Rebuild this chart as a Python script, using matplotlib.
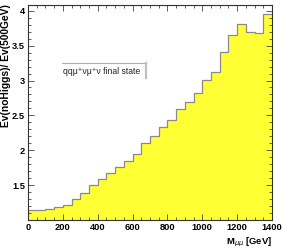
import numpy as np
import matplotlib
matplotlib.use("Agg")
import matplotlib.pyplot as plt
from matplotlib.ticker import MultipleLocator

# Data
bin_edges = np.arange(0, 1401, 50)
ratio = [1.143, 1.143, 1.157, 1.181, 1.219, 1.30, 1.386, 1.50, 1.586, 1.681,
         1.753, 1.839, 1.943, 2.11, 2.204, 2.333, 2.433, 2.596, 2.693, 2.821,
         3.014, 3.119, 3.41, 3.657, 3.81, 3.696, 3.681, 3.953]
x_ticks = [0, 200, 400, 600, 800, 1000, 1200, 1400]
y_ticks = [1.5, 2, 2.5, 3, 3.5, 4]
legend_text = "qq\u03bc\u207a\u03bd\u03bc\u207a\u03bd final state"
ylabel = "Ev(noHiggs)/ Ev(500GeV)"

plt.rcParams['font.family'] = ['Liberation Sans', 'DejaVu Sans']

fig = plt.figure(figsize=(2.88, 2.48), dpi=100)
ax = fig.add_axes([28/288, 1 - 220/248, 244/288, (220 - 4.5)/248])

ax.stairs(ratio, bin_edges, baseline=1.0, fill=True, color='#ffff33', zorder=1)
ax.stairs(ratio, bin_edges, baseline=None, color='#8a8a8a', lw=0.9, zorder=2)

ax.set_xlim(0, 1400)
ax.set_ylim(1.0, 4.09)
ax.set_xticks(x_ticks)
ax.set_xticklabels([str(v) for v in x_ticks])
ax.set_yticks(y_ticks)
ax.set_yticklabels(['1.5', '2', '2.5', '3', '3.5', '4'])
ax.xaxis.set_minor_locator(MultipleLocator(50))
ax.yaxis.set_minor_locator(MultipleLocator(0.1))
ax.tick_params(which='both', direction='in', top=True, right=True, color='#444444', width=0.6)
ax.tick_params(which='major', length=4.5, labelsize=6.7, pad=2)
ax.tick_params(which='minor', length=2.2)
for lab in ax.get_xticklabels() + ax.get_yticklabels():
    lab.set_fontweight('bold')
ax.set_axisbelow(False)
for s in ax.spines.values():
    s.set_color('#333333')
    s.set_linewidth(0.8)
    s.set_zorder(5)

ax.set_ylabel(ylabel, fontsize=7.4, fontweight='bold', loc='top', labelpad=1)
ax.yaxis.set_label_coords(-0.068, 1.0)
ax.set_xlabel(r"M$_{\mu\mu}$ [GeV]", fontsize=6.8, fontweight='bold', loc='right', labelpad=1)
ax.xaxis.set_label_coords(1.0, -0.075)

# legend box (top and right border with shadow)
fig.add_artist(plt.Line2D([62/288, 146/288], [1 - 63/248, 1 - 63/248], color='#b0b0b0', lw=0.8))
fig.add_artist(plt.Line2D([146/288, 146/288], [1 - 63/248, 1 - 78/248], color='#c0c0c0', lw=1.6))
fig.text(63/288, 1 - 71.5/248, legend_text, fontsize=6.2, va='center', ha='left', color='#222222')

fig.savefig("out.png", dpi=100)
